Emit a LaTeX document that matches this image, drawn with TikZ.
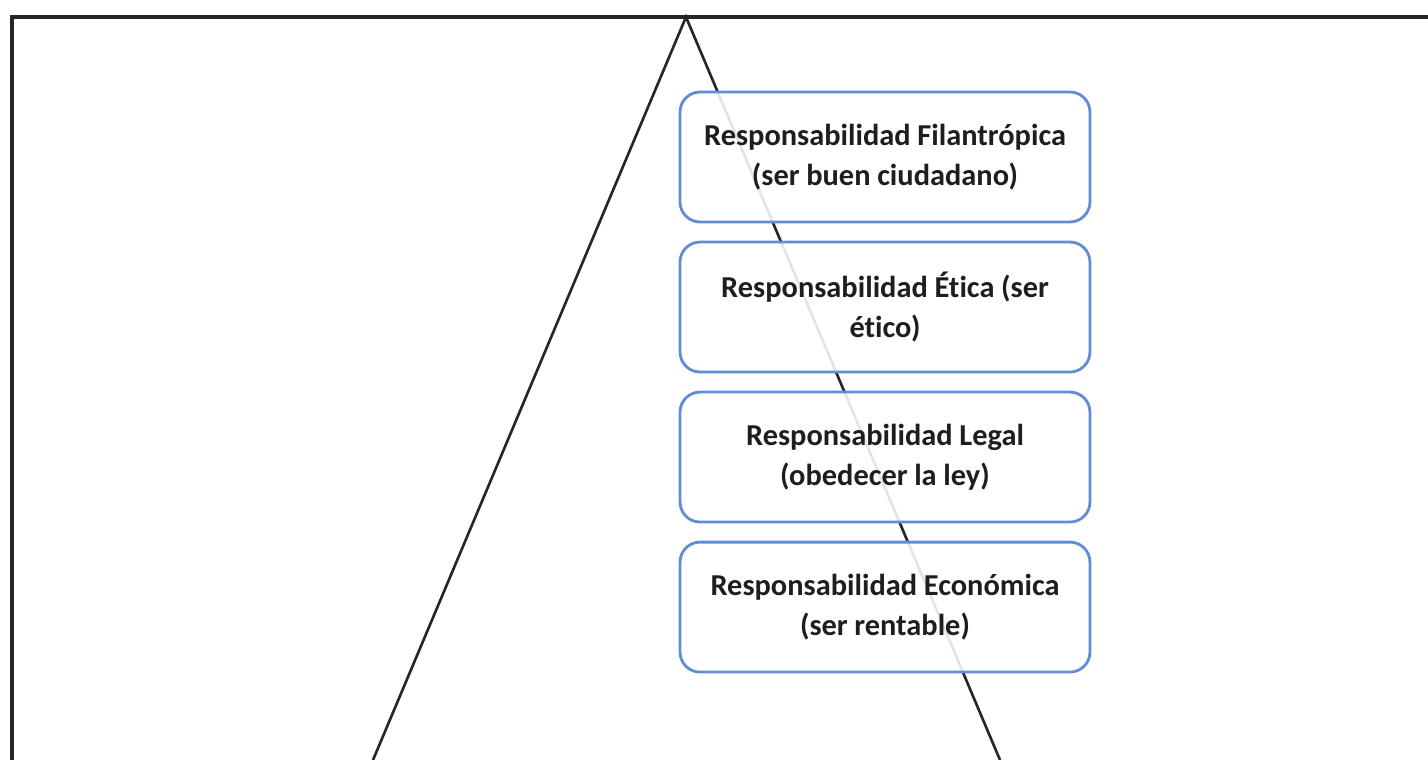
\documentclass[tikz,border=0pt]{standalone}
\usepackage{fontspec}
\setmainfont{Carlito}[Ligatures=NoCommon]
\usetikzlibrary{positioning}

\definecolor{boxblue}{RGB}{98,141,214}
\definecolor{txtgray}{RGB}{30,30,30}

\newcommand\respspace{\spaceskip=0.22em\relax}

\tikzset{
  resp/.style={draw=boxblue, line width=1.6pt, fill=white, fill opacity=.88, text opacity=1,
    rounded corners=0.4cm, minimum width=8.2cm, minimum height=2.6cm,
    align=center, text width=7.8cm, text=txtgray,
    font=\fontsize{17.3}{22.8}\selectfont\bfseries,
    execute at begin node=\respspace}
}

\begin{document}
\begin{tikzpicture}[x=0.02cm, y=-0.02cm, node distance=0.345cm]

    \coordinate (T) at (686,17);
    \coordinate (L) at (373,760);
    \coordinate (R) at (1000,760);

\useasboundingbox (0,0) rectangle (1428,760);
\clip (0,0) rectangle (1428,760);

\draw[line width=2.2pt, black!85] (12,790) -- (12,17) -- (1460,17);
\draw[line width=1.5pt, black!85] (L) -- (T) -- (R);

\node[resp] (fil) at (885,157) {Responsabilidad Filantrópica\\(ser buen ciudadano)};
\node[resp, below=of fil] (eti) {Responsabilidad Ética (ser\\ético)};
\node[resp, below=of eti] (leg) {Responsabilidad Legal\\(obedecer la ley)};
\node[resp, below=of leg] (eco) {Responsabilidad Económica\\(ser rentable)};

\end{tikzpicture}
\end{document}
